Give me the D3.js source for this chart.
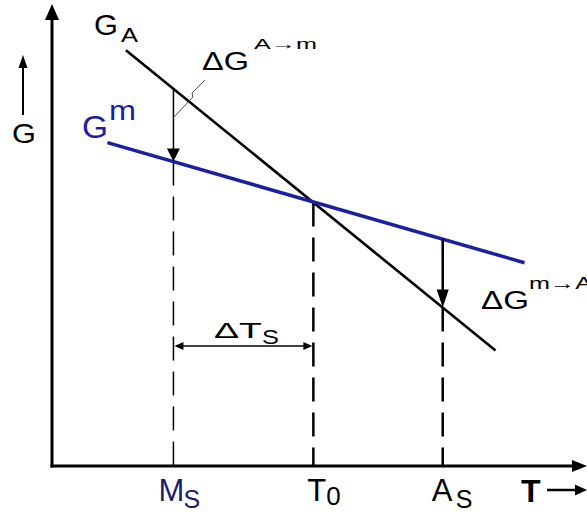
<!DOCTYPE html>
<html>
<head>
<meta charset="utf-8">
<script src="https://cdn.jsdelivr.net/npm/d3@7/dist/d3.min.js"></script>
<style>
  html, body { margin: 0; padding: 0; background: #fff; }
  svg { display: block; }
  text { font-family: "Liberation Sans", Arial, Helvetica, sans-serif; }
</style>
</head>
<body>
<svg id="chart" width="587" height="513"></svg>
<script>
// Free energy curves (temperature T, free energy G) in arbitrary units
const austeniteG = [[14, 90], [84, 25]];      // G_A
const martensiteG = [[10.5, 70], [89.5, 44]]; // G^m

// Characteristic temperatures on the T axis
const tempKeys = ["Ms", "T0", "As"];
const tempValues = [23, 49.5, 74];
const tempLabels = [["M", "S"], ["T", "0"], ["A", "S"]];

const W = 587, H = 513;
const x = d3.scaleLinear().domain([0, 100]).range([52, 580]);
const y = d3.scaleLinear().domain([0, 100]).range([466, 4]);

const svg = d3.select("#chart");
const BLUE = "#1e1ea0";
const NAVY = "#1c1c6a";

// value of a straight G(T) line at temperature t
function lineAt(pts, t) {
  const [[t0, g0], [t1, g1]] = pts;
  return g0 + (g1 - g0) * (t - t0) / (t1 - t0);
}
// filled arrowhead with its tip at (tx, ty), pointing along angle (radians)
function head(tx, ty, ang, len, half, color) {
  const bx = tx - len * Math.cos(ang), by = ty - len * Math.sin(ang);
  const nx = -Math.sin(ang) * half, ny = Math.cos(ang) * half;
  svg.append("path")
    .attr("d", `M${tx},${ty}L${bx + nx},${by + ny}L${bx - nx},${by - ny}Z`)
    .attr("fill", color || "#000");
}
// a text run, optionally widened horizontally to a given advance width
function label(str, px, py, size, len, opts) {
  opts = opts || {};
  const g = svg.append("g").attr("transform", `translate(${px},${py})`);
  const t = g.append("text").attr("x", 0).attr("y", 0)
    .attr("font-size", size).attr("fill", opts.fill || "#000").text(str);
  if (opts.family) t.attr("font-family", opts.family);
  if (opts.weight) t.attr("font-weight", opts.weight);
  if (len) {
    const w = t.node().getComputedTextLength();
    if (w > 0) g.attr("transform", `translate(${px},${py}) scale(${len / w},1)`);
  }
  return t;
}

const T = {};
tempKeys.forEach((k, i) => T[k] = tempValues[i]);

const x0 = x(0), yBase = y(0);

// axes
svg.append("line").attr("x1", x0).attr("x2", x0).attr("y1", yBase + 1.5).attr("y2", 18)
  .attr("stroke", "#000").attr("stroke-width", 3);
head(x0, 4, -Math.PI / 2, 16, 7);
svg.append("line").attr("x1", x0 - 1.5).attr("x2", W - 12).attr("y1", yBase).attr("y2", yBase)
  .attr("stroke", "#000").attr("stroke-width", 3);
head(W, yBase, 0, 15, 6);

// dashed guides down to the T axis
const guides = [
  { t: T.Ms, top: lineAt(martensiteG, T.Ms), w: 1.5 },
  { t: T.T0, top: lineAt(austeniteG, T.T0), w: 2.5 },
  { t: T.As, top: lineAt(austeniteG, T.As), w: 2.5 }
];
svg.selectAll("line.guide").data(guides).enter().append("line")
  .attr("class", "guide")
  .attr("x1", d => x(d.t)).attr("x2", d => x(d.t))
  .attr("y1", d => y(d.top)).attr("y2", yBase)
  .attr("stroke", "#000").attr("stroke-width", d => d.w)
  .attr("stroke-dasharray", "24,11");

// free energy lines
const gLine = d3.line().x(d => x(d[0])).y(d => y(d[1]));
svg.append("path").datum(austeniteG).attr("d", gLine)
  .attr("fill", "none").attr("stroke", "#000").attr("stroke-width", 2.6);
svg.append("path").datum(martensiteG).attr("d", gLine)
  .attr("fill", "none").attr("stroke", BLUE).attr("stroke-width", 3.5);

// driving force arrow at Ms (A -> m)
{
  const xs = x(T.Ms), y1 = y(lineAt(austeniteG, T.Ms)), y2 = y(lineAt(martensiteG, T.Ms));
  svg.append("line").attr("x1", xs).attr("x2", xs).attr("y1", y1).attr("y2", y2 - 10)
    .attr("stroke", "#000").attr("stroke-width", 1.5);
  head(xs, y2, Math.PI / 2, 13, 6.5);
}
// driving force arrow at As (m -> A)
{
  const xs = x(T.As), y1 = y(lineAt(martensiteG, T.As)), y2 = y(lineAt(austeniteG, T.As));
  svg.append("line").attr("x1", xs).attr("x2", xs).attr("y1", y1).attr("y2", y2 - 10)
    .attr("stroke", "#000").attr("stroke-width", 2.5);
  head(xs, y2, Math.PI / 2, 18, 6);
}

// undercooling span ΔTs between Ms and T0
{
  const yy = 346, xa = x(T.Ms), xb = x(T.T0);
  svg.append("line").attr("x1", xa + 6).attr("x2", xb - 6).attr("y1", yy).attr("y2", yy)
    .attr("stroke", "#000").attr("stroke-width", 1.5);
  head(xa + 1, yy, Math.PI, 9, 4);
  head(xb - 1, yy, 0, 9, 4);
  label("ΔT", 214, 338, 22, 48);
  label("S", 262, 344, 20, 17);
}

// leader from the ΔG^(A→m) label to its arrow
svg.append("path")
  .attr("d", `M205,80 L192,93 L193,97 L173,118`)
  .attr("fill", "none").attr("stroke", "#333").attr("stroke-width", 0.9);

// curve labels
label("G", 94, 35, 29, 24);
label("A", 121, 42, 21, 17);
label("G", 82, 138, 31, 26, { fill: BLUE });
label("m", 109, 120, 28, 27, { fill: BLUE });
label("ΔG", 202, 70, 25, 47);
label("A→m", 254, 49, 15, 63, { family: "DejaVu Sans" });
label("ΔG", 481, 309, 26, 48);
label("m→A", 529, 289, 17, 63, { family: "DejaVu Sans" });

// G axis label with its arrow
label("G", 12, 143, 27, 24);
svg.append("line").attr("x1", 23).attr("x2", 23).attr("y1", 115).attr("y2", 64)
  .attr("stroke", "#000").attr("stroke-width", 2);
head(23, 55, -Math.PI / 2, 13, 4.5);

// temperature labels under the T axis
const labelOffsets = [[-15, 10], [-6, 13], [-11, 13]];
tempKeys.forEach((k, i) => {
  const cx = x(tempValues[i]);
  const fill = i === 0 ? NAVY : "#000";
  label(tempLabels[i][0], cx + labelOffsets[i][0], 501, 31, null, { fill });
  label(tempLabels[i][1], cx + labelOffsets[i][1], i === 1 ? 505 : 508, i === 1 ? 26 : 25, null, { fill });
});

// T axis label with arrow
label("T", 521, 502, 32, null, { weight: "bold" });
svg.append("line").attr("x1", 547).attr("x2", 577).attr("y1", 490).attr("y2", 490)
  .attr("stroke", "#000").attr("stroke-width", 2.5);
head(587, 490, 0, 12, 5.5);
</script>
</body>
</html>
